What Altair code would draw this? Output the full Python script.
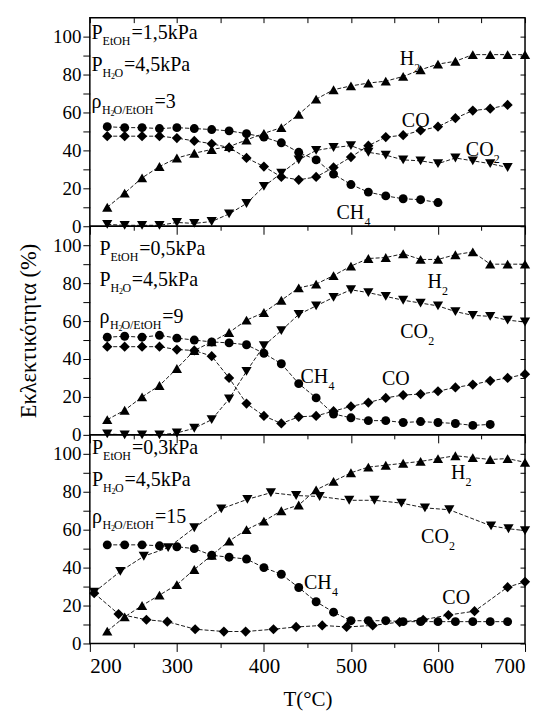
import altair as alt
import pandas as pd

FONT = "Liberation Serif"
SPECIES = ["H2", "CO", "CO2", "CH4"]
SHAPES = {"H2": "triangle-up", "CO": "diamond", "CO2": "triangle-down", "CH4": "circle"}
SIZES = {"H2": 105, "CO": 105, "CO2": 105, "CH4": 80}

# ---------------- data: top panel (P_EtOH = 1,5 kPa) ----------------
top_T_H2 = [220, 240, 260, 280, 300, 320, 340, 360, 380, 400, 420, 440, 460,
            480, 500, 520, 540, 560, 580, 600, 620, 640, 660, 680, 700]
top_H2 = [10, 17.5, 25.5, 31.5, 36, 38.5, 40.5, 42, 45.5, 49, 52, 59, 67,
          72, 74, 75.5, 76.5, 79, 82.5, 85.5, 87, 90.5, 90.5, 90.5, 90.5]
top_T_CO = [220, 240, 260, 280, 300, 320, 340, 360, 380, 400, 420, 440, 460,
            480, 500, 520, 540, 560, 580, 600, 620, 640, 660, 680]
top_CO = [47.5, 47.5, 47.5, 47.5, 46.5, 45, 43.5, 41.5, 36, 31.5, 26, 24.5, 26,
          31, 36.5, 42.5, 47, 48, 50.5, 52.5, 57, 61, 62, 64]
top_T_CO2 = [220, 240, 260, 280, 300, 320, 340, 360, 380, 400, 420, 440, 460,
             480, 500, 520, 540, 560, 580, 600, 620, 640, 660, 680]
top_CO2 = [1, 0.5, 0.5, 0.5, 2, 1.5, 2.5, 6.5, 12, 21, 28, 35, 40,
           41.5, 42.5, 39, 37.5, 35, 34.5, 33, 36, 34.5, 33, 31]
top_T_CH4 = [220, 240, 260, 280, 300, 320, 340, 360, 380, 400, 420, 440, 460,
             480, 500, 520, 540, 560, 580, 600]
top_CH4 = [52.5, 52, 52, 51.5, 52, 51.5, 51, 50.3, 48.8, 47, 44, 39, 35,
           27.5, 22, 18, 16, 14.5, 14, 12.5]

# ---------------- data: middle panel (P_EtOH = 0,5 kPa) ----------------
mid_T_H2 = [220, 240, 260, 280, 300, 320, 340, 360, 380, 400, 420, 440, 460,
            480, 500, 520, 540, 560, 580, 600, 620, 640, 660, 680, 700]
mid_H2 = [8, 13, 20, 26, 35, 44.5, 49, 54, 60.5, 64.5, 71, 77.5, 79.5,
          84, 89, 93, 93.5, 95.5, 92.5, 92.5, 95, 96.5, 90, 90, 90]
mid_T_CO2 = [220, 240, 260, 280, 300, 320, 340, 360, 380, 400, 420, 440, 460,
             480, 500, 520, 540, 560, 580, 600, 620, 640, 660, 680, 700]
mid_CO2 = [0.5, 0, 0, 0, 1, 3.5, 8, 19, 33.5, 47, 55, 63.5, 68,
           72.5, 76.5, 75, 73, 71, 69.5, 68, 65, 63, 62.5, 60.5, 59.5]
mid_T_CO = [220, 240, 260, 280, 300, 320, 340, 360, 380, 400, 420, 440, 460,
            480, 500, 520, 540, 560, 580, 600, 620, 640, 660, 680, 700]
mid_CO = [46.5, 46.5, 46.5, 46.5, 45, 44.5, 41.5, 30, 16.5, 10, 6, 9.5, 10,
          12.5, 15, 17, 19.5, 21, 21.5, 23, 25, 26.5, 28.5, 30, 32]
mid_T_CH4 = [220, 240, 260, 280, 300, 320, 340, 360, 380, 400, 420, 440, 460,
             480, 500, 520, 540, 560, 580, 600, 620, 640, 660]
mid_CH4 = [51.5, 52, 51.5, 52.5, 51, 50, 49, 48.5, 47.5, 43, 37.5, 27, 19.5,
           11, 9, 7.5, 7.5, 6.5, 7, 6.5, 6, 5, 5.5]

# ---------------- data: bottom panel (P_EtOH = 0,3 kPa) ----------------
bot_T_H2 = [220, 240, 260, 280, 300, 320, 340, 360, 380, 400, 420, 440, 460,
            480, 500, 520, 540, 560, 580, 600, 620, 640, 660, 680, 700]
bot_H2 = [6.5, 14, 20, 25.5, 31, 39, 46.5, 54, 60, 64.5, 70, 73, 81,
          85.5, 90, 93, 94, 95, 96, 97.5, 99, 98, 97, 97.5, 95.5]
bot_T_CO2 = [205, 235, 262, 290, 320, 351, 381, 408, 437, 464, 498, 527,
             558, 585, 613, 661, 681, 700]
bot_CO2 = [27, 38, 46, 50.5, 61, 71, 76, 79.5, 78, 77.5, 75.5, 75.5,
           74, 71.5, 70.5, 62, 60.5, 59.5]
bot_T_CO = [205, 233, 265, 289, 321, 354, 379, 411, 437, 467, 495, 525,
            556, 583, 612, 642, 680, 700]
bot_CO = [26.5, 15.5, 12.5, 11.5, 7.5, 6.3, 6.3, 7.5, 8.7, 9.5, 8.7, 9.5,
          11.3, 12.5, 15, 17, 29.7, 32.5]
bot_T_CH4 = [220, 240, 260, 280, 300, 320, 340, 360, 380, 400, 420, 440, 460,
             480, 500, 520, 540, 560, 580, 600, 620, 640, 660, 680]
bot_CH4 = [52, 52, 52, 51.5, 51, 50, 46.5, 45.5, 44.5, 40, 36.5, 29.5, 22,
           16.5, 12, 12, 12, 11.5, 11.5, 11.5, 11.5, 11.5, 11.5, 11.5]

# ---------------- annotation texts ----------------
# each label: anchor (T, value) and pieces (text, font size, dx, dy)
def cond_lines(p_etoh, ratio):
    return [
        [("P", 20, 0, 0), ("EtOH", 12, 11, 6), ("=" + p_etoh, 20, 40, 0)],
        [("P", 20, 0, 0), ("H", 12, 11, 6), ("2", 8, 19.5, 8), ("O", 12, 23, 6), ("=4,5kPa", 20, 32.5, 0)],
        [("ρ", 20, 0, 0), ("H", 12, 10.5, 6), ("2", 8, 19, 8), ("O/EtOH", 12, 22, 6), ("=" + ratio, 20, 63, 0)],
    ]

def sp_label(main, sub):
    pieces = [(main, 20, 0, 0)]
    if sub:
        pieces.append((sub, 12, 28 if len(main) == 2 else 14.5, 7))
    return pieces

top_cond = list(zip([(202, 98.7), (202, 82), (202, 62.6)], cond_lines("1,5kPa", "3")))
mid_cond = list(zip([(211, 95), (211, 78.3), (211, 58.9)], cond_lines("0,5kPa", "9")))
bot_cond = list(zip([(202.6, 99.7), (202.6, 83), (202.6, 63.7)], cond_lines("0,3kPa", "15")))

top_sp = [((556, 85), sp_label("H", "2")), ((558.5, 52.5), sp_label("CO", "")),
          ((632, 37), sp_label("CO", "2")), ((483.4, 4), sp_label("CH", "4"))]
mid_sp = [((588, 77.4), sp_label("H", "2")), ((556.6, 51), sp_label("CO", "2")),
          ((442, 27.2), sp_label("CH", "4")), ((535.6, 26.4), sp_label("CO", ""))]
bot_sp = [((615, 86.5), sp_label("H", "2")), ((580.6, 53), sp_label("CO", "2")),
          ((446, 28.5), sp_label("CH", "4")), ((605, 20.6), sp_label("CO", ""))]

DASHED = [4, 2]
SOLID = [1, 0]

W, H = 436, 209
XS = alt.Scale(domain=[200, 700], nice=False, zero=False)
YS = alt.Scale(domain=[0, 110], nice=False)
X_TICKS = [200, 250, 300, 350, 400, 450, 500, 550, 600, 650, 700]
Y_TICKS = [0, 10, 20, 30, 40, 50, 60, 70, 80, 90, 100]
X_TICK_SIZE = {"condition": {"test": "datum.value % 100 === 0", "value": 8}, "value": 4}


def panel(series, dashes, labels, bottom=False, top=False, ytitle=None):
    rows = []
    for sp in SPECIES:
        ts, vs = series[sp]
        for t, v in zip(ts, vs):
            rows.append({"T": t, "value": v, "species": sp})
    df = pd.DataFrame(rows)

    x_axis = alt.Axis(values=X_TICKS, labels=bottom,
                      labelExpr="datum.value % 100 == 0 ? datum.label : ''",
                      tickSize=X_TICK_SIZE, domain=False, grid=False,
                      labelPadding=4, labelFontSize=21,
                      title="T(°C)" if bottom else None, titlePadding=12, titleFontSize=21)
    y_kwargs = dict(values=Y_TICKS, labelExpr="datum.value % 20 == 0 ? datum.label : ''",
                    tickSize=7, domain=False, grid=False, labelPadding=2, labelFontSize=19)
    if ytitle:
        y_axis = alt.Axis(title=ytitle, titlePadding=12, titleFontSize=22.5, **y_kwargs)
    else:
        y_axis = alt.Axis(title=None, **y_kwargs)

    lines = alt.Chart(df).mark_line(strokeWidth=0.9, color="black").encode(
        x=alt.X("T:Q", scale=XS, axis=x_axis),
        y=alt.Y("value:Q", scale=YS, axis=y_axis),
        detail="species:N",
        strokeDash=alt.StrokeDash("species:N", scale=alt.Scale(domain=SPECIES, range=dashes), legend=None),
    )

    right_axis = alt.Axis(orient="right", values=Y_TICKS, labels=False, tickSize=5,
                          offset=-5, domain=False, grid=False, title=None)
    top_axis = alt.Axis(orient="top", values=X_TICKS, labels=False, tickSize=5,
                        offset=-5, domain=False, grid=False, title=None) if top else None
    carrier = alt.Chart(df).mark_point(opacity=0).encode(
        x=alt.X("T:Q", scale=XS, axis=top_axis),
        y=alt.Y("value:Q", scale=YS, axis=right_axis),
    )

    layers = [lines, carrier]
    for sp in SPECIES:
        layers.append(
            alt.Chart(df).transform_filter(alt.datum.species == sp)
            .mark_point(filled=True, color="black", opacity=1, shape=SHAPES[sp], size=SIZES[sp])
            .encode(x=alt.X("T:Q", scale=XS, axis=None), y=alt.Y("value:Q", scale=YS, axis=None))
        )
    for (t, v), pieces in labels:
        for txt, fs, dx, dy in pieces:
            layers.append(
                alt.Chart(pd.DataFrame([{"T": t, "value": v, "label": txt}]))
                .mark_text(align="left", baseline="alphabetic", dx=dx, dy=dy,
                           fontSize=fs, font=FONT, color="black")
                .encode(x=alt.X("T:Q", scale=XS, axis=None),
                        y=alt.Y("value:Q", scale=YS, axis=None),
                        text="label:N")
            )
    return alt.layer(*layers).resolve_axis(x="independent", y="independent").properties(width=W, height=H)


top_panel = panel(
    {"H2": (top_T_H2, top_H2), "CO": (top_T_CO, top_CO), "CO2": (top_T_CO2, top_CO2), "CH4": (top_T_CH4, top_CH4)},
    [DASHED, DASHED, DASHED, DASHED], top_cond + top_sp, top=True)
mid_panel = panel(
    {"H2": (mid_T_H2, mid_H2), "CO": (mid_T_CO, mid_CO), "CO2": (mid_T_CO2, mid_CO2), "CH4": (mid_T_CH4, mid_CH4)},
    [DASHED, DASHED, DASHED, DASHED], mid_cond + mid_sp, ytitle="Εκλεκτικότητα (%)")
bot_panel = panel(
    {"H2": (bot_T_H2, bot_H2), "CO": (bot_T_CO, bot_CO), "CO2": (bot_T_CO2, bot_CO2), "CH4": (bot_T_CH4, bot_CH4)},
    [DASHED, SOLID, SOLID, DASHED], bot_cond + bot_sp, bottom=True)

chart = alt.vconcat(top_panel, mid_panel, bot_panel, spacing=0, bounds="flush").properties(
    padding={"left": 8, "top": 7, "right": 5, "bottom": 0}, background="white"
).configure_view(stroke="black", strokeWidth=1.5).configure_axis(
    labelFont=FONT, titleFont=FONT, labelFontSize=20, titleFontSize=20,
    labelColor="black", titleColor="black", tickColor="black", tickWidth=1,
    titleFontWeight="normal",
)

chart.save("out.html", embed_options={"renderer": "svg", "actions": False})
